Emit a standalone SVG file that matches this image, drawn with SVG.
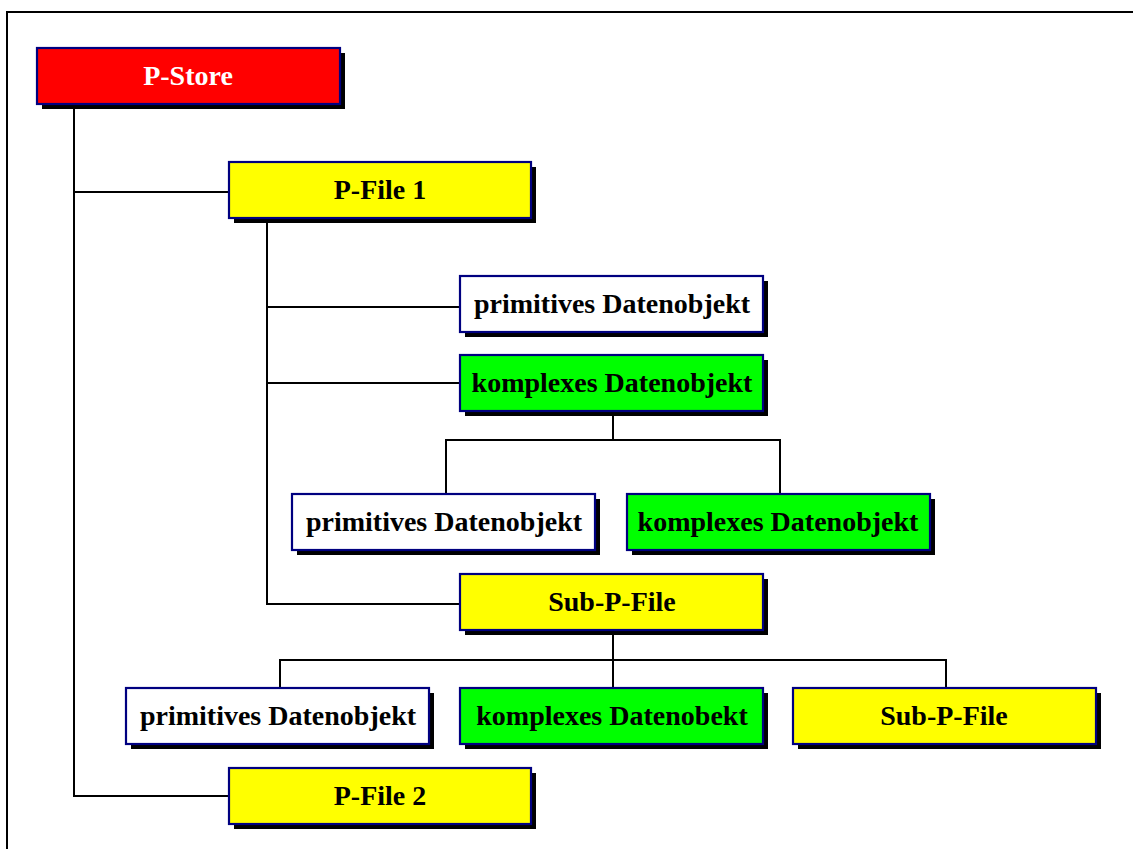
<svg xmlns="http://www.w3.org/2000/svg" width="1133" height="849" viewBox="0 0 1133 849">
<style>
.sh{fill:#000}
.bx{stroke:#000080;stroke-width:2.2}
.t{font-family:"Liberation Serif","Times New Roman",serif;font-weight:bold;font-size:28px;text-anchor:middle;fill:#000}
.w{fill:#fff}
.y{fill:#ffff00}
.g{fill:#00ff00}
.r{fill:#ff0000}
.c{fill:none;stroke:#000;stroke-width:2}
</style>
<rect x="0" y="0" width="1133" height="849" fill="#fff"/>
<rect x="7" y="12" width="1140" height="850" fill="none" stroke="#000" stroke-width="2"/>
<g id="connectors">
<path class="c" d="M74 104V796H229M74 192H229"/>
<path class="c" d="M267 218V604H460M267 307H460M267 383H460"/>
<path class="c" d="M613 411V440M446 494V440H780V494"/>
<path class="c" d="M613 630V660M280 688V660H946V688M613 660V688"/>
</g>
<g id="pstore"><rect class="sh" x="42" y="53" width="303" height="56"/><rect class="bx r" x="37" y="48" width="303" height="56"/><text class="t" x="188" y="85" style="fill:#fff">P-Store</text></g>
<g id="pfile1"><rect class="sh" x="234" y="167" width="302" height="56"/><rect class="bx y" x="229" y="162" width="302" height="56"/><text class="t" x="380" y="199">P-File 1</text></g>
<g id="prim1"><rect class="sh" x="465" y="281" width="303" height="56"/><rect class="bx w" x="460" y="276" width="303" height="56"/><text class="t" x="612" y="313">primitives Datenobjekt</text></g>
<g id="kompl1"><rect class="sh" x="465" y="360" width="303" height="56"/><rect class="bx g" x="460" y="355" width="303" height="56"/><text class="t" x="612" y="392">komplexes Datenobjekt</text></g>
<g id="prim2"><rect class="sh" x="297" y="499" width="303" height="56"/><rect class="bx w" x="292" y="494" width="303" height="56"/><text class="t" x="444" y="531">primitives Datenobjekt</text></g>
<g id="kompl2"><rect class="sh" x="632" y="499" width="303" height="56"/><rect class="bx g" x="627" y="494" width="303" height="56"/><text class="t" x="778" y="531">komplexes Datenobjekt</text></g>
<g id="sub1"><rect class="sh" x="465" y="579" width="303" height="56"/><rect class="bx y" x="460" y="574" width="303" height="56"/><text class="t" x="612" y="611">Sub-P-File</text></g>
<g id="prim3"><rect class="sh" x="131" y="693" width="303" height="56"/><rect class="bx w" x="126" y="688" width="303" height="56"/><text class="t" x="278" y="725">primitives Datenobjekt</text></g>
<g id="kompl3"><rect class="sh" x="465" y="693" width="303" height="56"/><rect class="bx g" x="460" y="688" width="303" height="56"/><text class="t" x="612" y="725">komplexes Datenobekt</text></g>
<g id="sub2"><rect class="sh" x="798" y="693" width="303" height="56"/><rect class="bx y" x="793" y="688" width="303" height="56"/><text class="t" x="944" y="725">Sub-P-File</text></g>
<g id="pfile2"><rect class="sh" x="234" y="773" width="302" height="56"/><rect class="bx y" x="229" y="768" width="302" height="56"/><text class="t" x="380" y="805">P-File 2</text></g>
</svg>
